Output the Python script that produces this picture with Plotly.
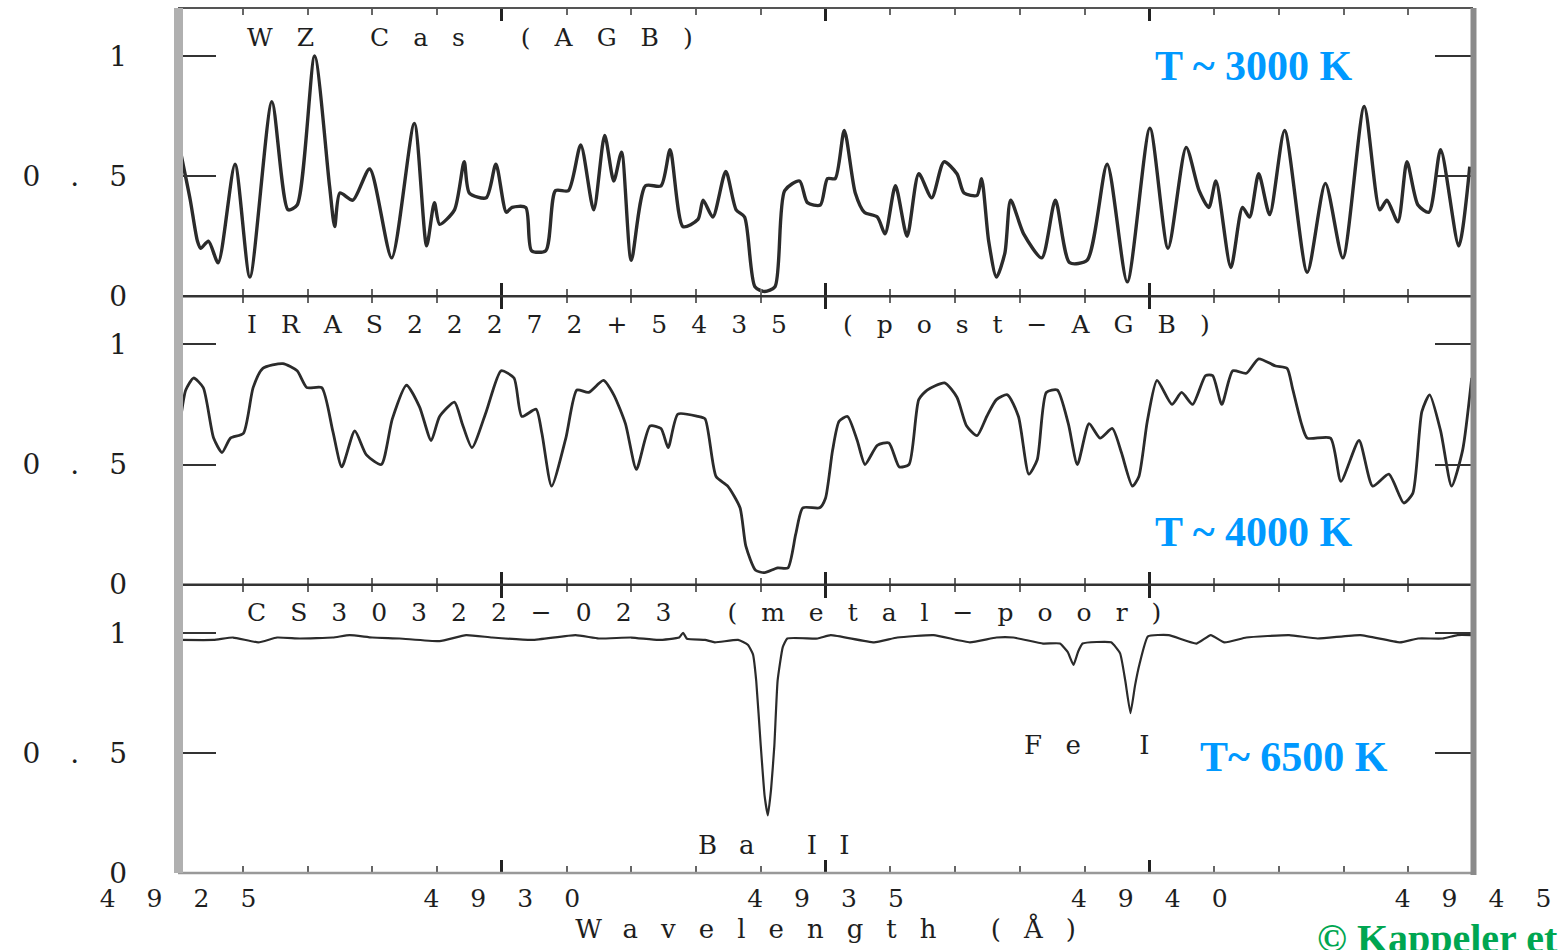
import plotly.graph_objects as go

# ---------------- data ----------------
wl1 = [4925.04, 4925.19, 4925.30, 4925.35, 4925.47, 4925.62, 4925.88, 4926.11, 4926.45, 4926.70,
       4926.84, 4927.11, 4927.34, 4927.42, 4927.50, 4927.70, 4927.96, 4928.30, 4928.65, 4928.84,
       4928.96, 4929.04, 4929.27, 4929.42, 4929.50, 4929.76, 4929.91, 4930.07, 4930.16, 4930.37,
       4930.46, 4930.68, 4930.83, 4931.03, 4931.22, 4931.42, 4931.59, 4931.73, 4931.85, 4932.00,
       4932.22, 4932.46, 4932.60, 4932.80, 4933.03, 4933.11, 4933.26, 4933.46, 4933.62, 4933.75,
       4933.91, 4934.06, 4934.22, 4934.37, 4934.60, 4934.72, 4934.92, 4935.03, 4935.15, 4935.29,
       4935.46, 4935.60, 4935.80, 4935.92, 4936.08, 4936.26, 4936.44, 4936.64, 4936.83, 4937.03,
       4937.14, 4937.34, 4937.41, 4937.52, 4937.64, 4937.77, 4937.86, 4938.06, 4938.34, 4938.55,
       4938.77, 4939.04, 4939.35, 4939.66, 4940.01, 4940.29, 4940.57, 4940.77, 4940.92, 4941.03,
       4941.26, 4941.44, 4941.55, 4941.69, 4941.86, 4942.09, 4942.44, 4942.72, 4942.99, 4943.32,
       4943.56, 4943.67, 4943.84, 4943.98, 4944.15, 4944.32, 4944.50, 4944.78, 4944.95]
fl1 = [0.60, 0.40, 0.23, 0.20, 0.23, 0.14, 0.55, 0.08, 0.81, 0.36,
       0.38, 1.00, 0.46, 0.29, 0.43, 0.40, 0.53, 0.16, 0.72, 0.21,
       0.39, 0.30, 0.36, 0.56, 0.43, 0.41, 0.55, 0.35, 0.37, 0.37,
       0.19, 0.19, 0.44, 0.44, 0.63, 0.36, 0.67, 0.48, 0.60, 0.15,
       0.46, 0.46, 0.61, 0.29, 0.32, 0.40, 0.33, 0.52, 0.36, 0.33,
       0.04, 0.02, 0.04, 0.44, 0.48, 0.39, 0.38, 0.49, 0.49, 0.69,
       0.43, 0.35, 0.33, 0.26, 0.46, 0.25, 0.51, 0.41, 0.56, 0.51,
       0.43, 0.42, 0.49, 0.23, 0.08, 0.18, 0.40, 0.26, 0.16, 0.40,
       0.14, 0.15, 0.55, 0.06, 0.70, 0.20, 0.62, 0.44, 0.37, 0.48,
       0.12, 0.37, 0.33, 0.51, 0.34, 0.69, 0.10, 0.47, 0.16, 0.79,
       0.36, 0.40, 0.31, 0.56, 0.38, 0.35, 0.61, 0.21, 0.54]

wl2 = [4925.04, 4925.12, 4925.24, 4925.39, 4925.55, 4925.68, 4925.81, 4926.01, 4926.16, 4926.31,
       4926.62, 4926.84, 4926.99, 4927.22, 4927.39, 4927.53, 4927.73, 4927.91, 4928.14, 4928.31,
       4928.53, 4928.73, 4928.91, 4929.04, 4929.27, 4929.39, 4929.54, 4929.76, 4929.99, 4930.19,
       4930.31, 4930.53, 4930.62, 4930.77, 4930.99, 4931.16, 4931.34, 4931.57, 4931.73, 4931.91,
       4932.08, 4932.29, 4932.46, 4932.57, 4932.72, 4933.03, 4933.14, 4933.31, 4933.49, 4933.68,
       4933.77, 4933.92, 4934.06, 4934.26, 4934.42, 4934.54, 4934.65, 4934.91, 4935.00, 4935.11,
       4935.21, 4935.34, 4935.49, 4935.61, 4935.80, 4935.98, 4936.14, 4936.29, 4936.44, 4936.57,
       4936.84, 4937.03, 4937.18, 4937.34, 4937.49, 4937.64, 4937.81, 4937.98, 4938.14, 4938.27,
       4938.41, 4938.58, 4938.75, 4938.89, 4939.07, 4939.24, 4939.43, 4939.57, 4939.74, 4939.84,
       4939.97, 4940.12, 4940.35, 4940.50, 4940.67, 4940.87, 4940.98, 4941.12, 4941.29, 4941.50,
       4941.69, 4941.95, 4942.13, 4942.21, 4942.35, 4942.44, 4942.80, 4942.96, 4943.24, 4943.45,
       4943.70, 4943.93, 4944.07, 4944.21, 4944.33, 4944.50, 4944.67, 4944.84, 4944.98]
fl2 = [0.69, 0.81, 0.86, 0.82, 0.61, 0.55, 0.61, 0.63, 0.82, 0.90,
       0.92, 0.89, 0.82, 0.82, 0.64, 0.49, 0.64, 0.54, 0.50, 0.69,
       0.83, 0.74, 0.60, 0.70, 0.76, 0.67, 0.57, 0.72, 0.89, 0.86,
       0.70, 0.73, 0.63, 0.41, 0.61, 0.81, 0.80, 0.85, 0.79, 0.67,
       0.48, 0.66, 0.65, 0.57, 0.71, 0.70, 0.69, 0.45, 0.41, 0.32,
       0.16, 0.06, 0.05, 0.07, 0.07, 0.21, 0.32, 0.32, 0.36, 0.56,
       0.68, 0.70, 0.60, 0.50, 0.58, 0.59, 0.49, 0.50, 0.77, 0.81,
       0.84, 0.78, 0.66, 0.62, 0.70, 0.77, 0.79, 0.70, 0.46, 0.52,
       0.80, 0.81, 0.67, 0.50, 0.67, 0.61, 0.65, 0.55, 0.41, 0.45,
       0.68, 0.85, 0.75, 0.80, 0.75, 0.87, 0.87, 0.75, 0.89, 0.88,
       0.94, 0.91, 0.90, 0.82, 0.67, 0.61, 0.61, 0.43, 0.60, 0.41,
       0.46, 0.34, 0.38, 0.72, 0.79, 0.64, 0.41, 0.56, 0.86]

wl3 = [4925.04, 4925.55, 4925.85, 4926.24, 4926.53, 4926.88, 4927.39, 4927.65, 4928.00, 4928.42,
       4929.04, 4929.45, 4929.85, 4930.47, 4931.14, 4931.50, 4932.00, 4932.42, 4932.74, 4932.80,
       4932.86, 4933.14, 4933.29, 4933.65, 4933.80, 4933.88, 4933.93, 4934.00, 4934.06, 4934.11,
       4934.16, 4934.21, 4934.26, 4934.34, 4934.41, 4934.88, 4935.08, 4935.75, 4936.11, 4936.67,
       4937.23, 4937.64, 4937.90, 4938.36, 4938.62, 4938.74, 4938.83, 4938.90, 4938.97, 4939.41,
       4939.55, 4939.63, 4939.71, 4939.78, 4939.85, 4939.98, 4940.30, 4940.73, 4940.95, 4941.16,
       4941.50, 4942.16, 4942.60, 4943.26, 4943.87, 4944.15, 4944.53, 4944.76, 4944.98]
fl3 = [0.970, 0.970, 0.980, 0.960, 0.980, 0.976, 0.980, 0.990, 0.980, 0.976,
       0.965, 0.990, 0.980, 0.970, 0.990, 0.976, 0.980, 0.970, 0.980, 1.000,
       0.975, 0.970, 0.960, 0.970, 0.950, 0.910, 0.800, 0.530, 0.320, 0.240,
       0.350, 0.530, 0.800, 0.940, 0.976, 0.976, 0.990, 0.960, 0.980, 0.990,
       0.960, 0.980, 0.980, 0.955, 0.955, 0.920, 0.866, 0.920, 0.955, 0.960,
       0.914, 0.800, 0.665, 0.780, 0.870, 0.985, 0.990, 0.955, 0.990, 0.960,
       0.980, 0.990, 0.976, 0.990, 0.960, 0.976, 0.976, 0.990, 0.990]

star_labels = ["WZ Cas (AGB)", "IRAS22272+5435 (post\u2212AGB)", "CS30322\u2212023 (metal\u2212poor)"]
temp_labels = ["T ~ 3000 K", "T ~ 4000 K", "T~ 6500 K"]
line_labels = ["Ba II", "Fe I"]
x_tickvals = [4925, 4930, 4935, 4940, 4945]
x_ticklabels = ["4925", "4930", "4935", "4940", "4945"]
y_tickvals = [0, 0.5, 1]
y_ticklabels = ["0", "0.5", "1"]
x_title = "Wavelength (\u00c5)"
credit = "\u00a9 Kappeler et al."

# ---------------- geometry helpers ----------------
W, H = 1559, 950
ML, MR, MT, MB = 178, 81, 8, 77
PW, PH = W - ML - MR, H - MT - MB


def px(x):
    return (x - ML) / PW


def py(y):
    return (H - MB - y) / PH


def spaced(t, ls):
    if len(t) < 2:
        return t
    return '<span style="letter-spacing:%dpx">%s</span>%s' % (ls, t[:-1], t[-1])


SERIF = "DejaVu Serif"
INK = "#1e1e1e"

fig = go.Figure()
fig.add_trace(go.Scatter(x=wl1, y=fl1, mode="lines", xaxis="x", yaxis="y",
                         line=dict(color="#2b2b2b", width=3.4, shape="spline", smoothing=0.7),
                         showlegend=False, hoverinfo="skip"))
fig.add_trace(go.Scatter(x=wl2, y=fl2, mode="lines", xaxis="x2", yaxis="y2",
                         line=dict(color="#2b2b2b", width=2.8, shape="spline", smoothing=0.6),
                         showlegend=False, hoverinfo="skip"))
fig.add_trace(go.Scatter(x=wl3, y=fl3, mode="lines", xaxis="x3", yaxis="y3",
                         line=dict(color="#2b2b2b", width=2.2, shape="spline", smoothing=0.4),
                         showlegend=False, hoverinfo="skip"))

xcommon = dict(range=[4925, 4945], tickmode="array", tickvals=x_tickvals,
               ticks="inside", ticklen=13, tickwidth=2.5, tickcolor="#222",
               minor=dict(tickmode="linear", tick0=4925, dtick=1, ticks="inside",
                          ticklen=7, tickwidth=2.2, tickcolor="#666"),
               mirror="ticks", showline=False, showgrid=False, zeroline=False,
               fixedrange=True)
ycommon = dict(range=[0, 1.2], tickmode="array", tickvals=y_tickvals,
               ticktext=[spaced(t, 30) for t in y_ticklabels],
               ticks="inside", ticklen=38, tickwidth=1.5, tickcolor="#333",
               mirror="ticks", showline=False, showgrid=False, zeroline=False,
               tickfont=dict(family=SERIF, size=28, color=INK),
               ticklabelstandoff=50, fixedrange=True)

fig.update_layout(
    width=W, height=H,
    margin=dict(l=ML, r=MR, t=MT, b=MB, pad=0),
    paper_bgcolor="white", plot_bgcolor="white",
    xaxis=dict(**xcommon, anchor="y", showticklabels=False),
    xaxis2=dict(**xcommon, anchor="y2", matches="x", showticklabels=False),
    xaxis3=dict(**xcommon, anchor="y3", matches="x", showticklabels=True,
                ticktext=[spaced(t, 31) for t in x_ticklabels],
                tickfont=dict(family=SERIF, size=25, color=INK),
                ticklabelstandoff=8,
                title=dict(text=spaced(x_title, 23), standoff=6,
                           font=dict(family=SERIF, size=26, color=INK))),
    yaxis=dict(**ycommon, domain=[2 / 3, 1], anchor="x"),
    yaxis2=dict(**ycommon, domain=[1 / 3, 2 / 3], anchor="x2"),
    yaxis3=dict(**ycommon, domain=[0, 1 / 3], anchor="x3"),
)

# frame lines
shapes = [
    dict(type="line", xref="paper", yref="paper", x0=0, x1=1, y0=1, y1=1,
         line=dict(color="#555", width=2)),
    dict(type="line", xref="paper", yref="paper", x0=0, x1=1, y0=2 / 3, y1=2 / 3,
         line=dict(color="#333", width=2.5)),
    dict(type="line", xref="paper", yref="paper", x0=0, x1=1, y0=1 / 3, y1=1 / 3,
         line=dict(color="#333", width=2.5)),
    dict(type="line", xref="paper", yref="paper", x0=0, x1=1, y0=0, y1=0,
         line=dict(color="#999", width=2.5)),
    dict(type="line", xref="paper", yref="paper", x0=px(178.5), x1=px(178.5), y0=py(873), y1=1,
         line=dict(color="#b0b0b0", width=9)),
    dict(type="line", xref="paper", yref="paper", x0=px(1478.5), x1=px(1478.5), y0=py(875), y1=1,
         line=dict(color="#8a8a8a", width=6)),
]
fig.update_layout(shapes=shapes)

ann = []
label_pos = [(245, 37), (245, 324), (245, 612)]
for t, (x, y) in zip(star_labels, label_pos):
    ann.append(dict(text=spaced(t, 24), x=px(x), y=py(y), xref="paper", yref="paper",
                    xanchor="left", yanchor="middle", showarrow=False,
                    font=dict(family=SERIF, size=25, color=INK)))

line_pos = [(698, 845, 22), (1025, 745, 25)]
for t, (x, y, ls) in zip(line_labels, line_pos):
    ann.append(dict(text=spaced(t, ls), x=px(x), y=py(y), xref="paper", yref="paper",
                    xanchor="left", yanchor="middle", showarrow=False,
                    font=dict(family=SERIF, size=26, color=INK)))

temp_pos = [(1258, 66), (1258, 532), (1298, 757)]
for t, (x, y) in zip(temp_labels, temp_pos):
    ann.append(dict(text=t, x=px(x), y=py(y), xref="paper", yref="paper",
                    xanchor="center", yanchor="middle", showarrow=False,
                    font=dict(family="Liberation Serif", size=42, color="#0099ff", weight="bold")))

ann.append(dict(text=credit, x=px(1319), y=py(938), xref="paper", yref="paper",
                xanchor="left", yanchor="middle", showarrow=False,
                font=dict(family="Liberation Serif", size=40, color="#00a651", weight="bold")))
fig.update_layout(annotations=ann)

fig.write_html("out.html")
